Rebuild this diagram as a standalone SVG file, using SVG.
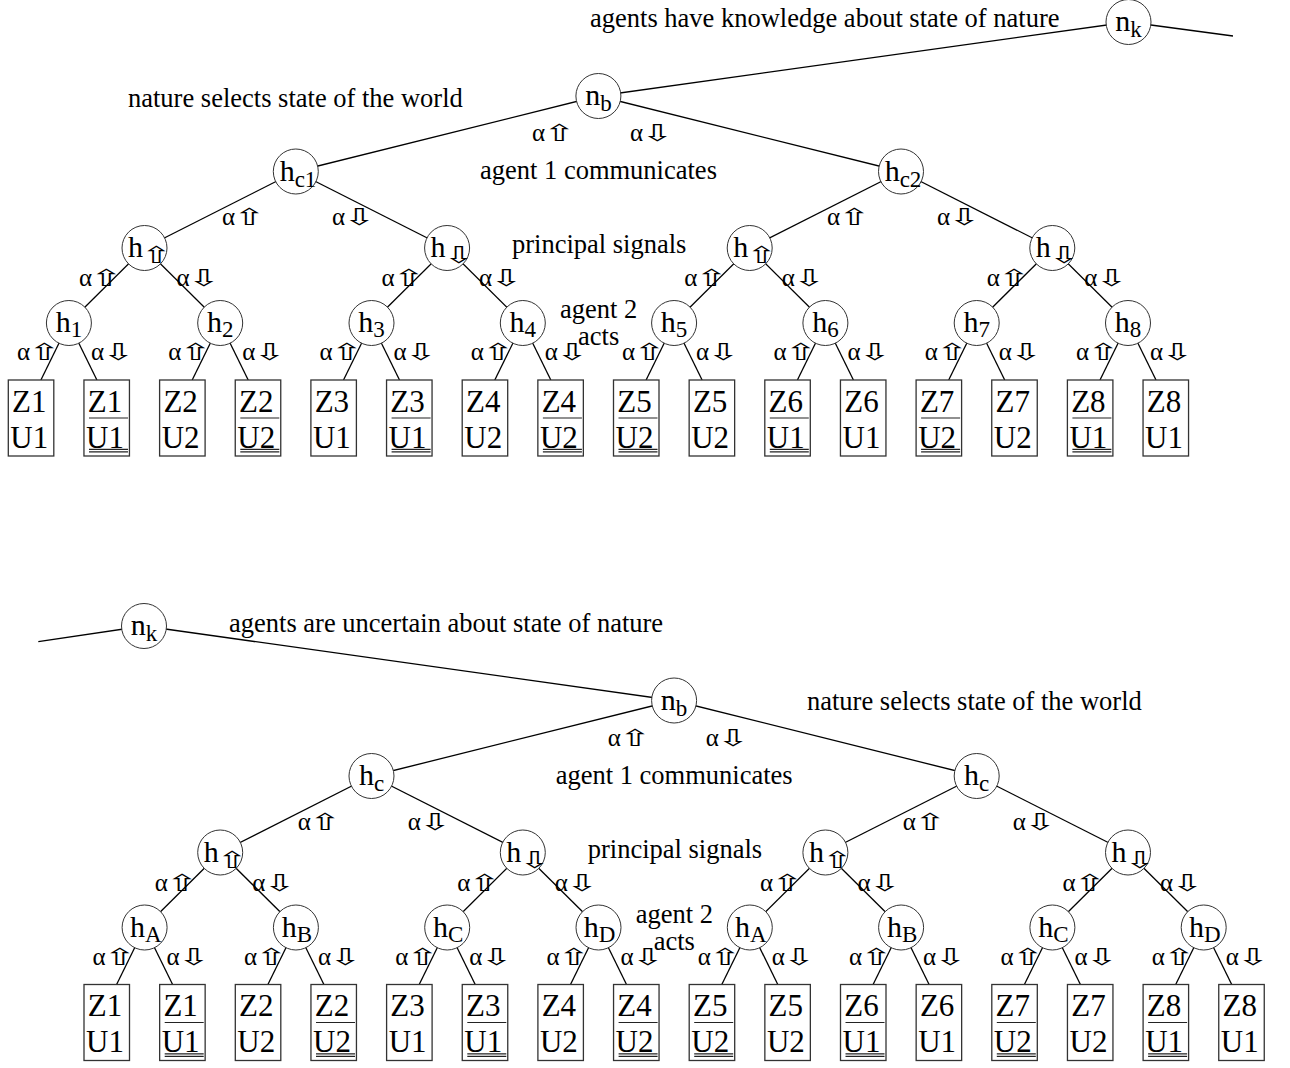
<svg xmlns="http://www.w3.org/2000/svg" width="1290" height="1068" viewBox="0 0 1290 1068">
<style>
.ln{stroke:#000;stroke-width:1.3;fill:none}
.nd{fill:#fff;stroke:#333;stroke-width:1}
.bx{fill:#fff;stroke:#333;stroke-width:1.3}
.ul{stroke:#222;stroke-width:1.2}
text{font-family:"Liberation Serif","Times New Roman",serif;fill:#000}
.t{font-size:26.5px}
.nl{font-size:30px;text-anchor:middle}
.nh{font-size:30px}
.sb{font-size:23px}
.al{font-size:25px}
.ar{font-family:"DejaVu Sans",sans-serif;font-size:23px}
.bt{font-size:31px;text-anchor:middle}
</style>
<defs>
<g id="au"><text class="al" x="0" y="0">α</text><text class="ar" transform="translate(11,0) scale(1.7,1)">⇧</text></g>
<g id="ad"><text class="al" x="0" y="0">α</text><text class="ar" transform="translate(11,0) scale(1.7,1)">⇩</text></g>
<text id="su" class="ar" transform="scale(1.6,1)">⇧</text>
<text id="sd" class="ar" transform="scale(1.6,1)">⇩</text>
<g id="treeEdges">
<line class="ln" x1="598.4" y1="96" x2="295.8" y2="171.5"/>
<line class="ln" x1="598.4" y1="96" x2="901" y2="171.5"/>
<line class="ln" x1="295.8" y1="171.5" x2="144.5" y2="248"/>
<line class="ln" x1="295.8" y1="171.5" x2="447.1" y2="248"/>
<line class="ln" x1="901" y1="171.5" x2="749.7" y2="248"/>
<line class="ln" x1="901" y1="171.5" x2="1052.3" y2="248"/>
<line class="ln" x1="144.5" y1="248" x2="68.9" y2="323"/>
<line class="ln" x1="144.5" y1="248" x2="220.2" y2="323"/>
<line class="ln" x1="447.1" y1="248" x2="371.5" y2="323"/>
<line class="ln" x1="447.1" y1="248" x2="522.8" y2="323"/>
<line class="ln" x1="749.7" y1="248" x2="674.1" y2="323"/>
<line class="ln" x1="749.7" y1="248" x2="825.4" y2="323"/>
<line class="ln" x1="1052.3" y1="248" x2="976.7" y2="323"/>
<line class="ln" x1="1052.3" y1="248" x2="1128" y2="323"/>
<line class="ln" x1="68.9" y1="323" x2="40.9" y2="380"/>
<line class="ln" x1="68.9" y1="323" x2="96.9" y2="380"/>
<line class="ln" x1="220.2" y1="323" x2="192.2" y2="380"/>
<line class="ln" x1="220.2" y1="323" x2="248.2" y2="380"/>
<line class="ln" x1="371.5" y1="323" x2="343.5" y2="380"/>
<line class="ln" x1="371.5" y1="323" x2="399.5" y2="380"/>
<line class="ln" x1="522.8" y1="323" x2="494.8" y2="380"/>
<line class="ln" x1="522.8" y1="323" x2="550.8" y2="380"/>
<line class="ln" x1="674.1" y1="323" x2="646.1" y2="380"/>
<line class="ln" x1="674.1" y1="323" x2="702.1" y2="380"/>
<line class="ln" x1="825.4" y1="323" x2="797.4" y2="380"/>
<line class="ln" x1="825.4" y1="323" x2="853.4" y2="380"/>
<line class="ln" x1="976.7" y1="323" x2="948.7" y2="380"/>
<line class="ln" x1="976.7" y1="323" x2="1004.7" y2="380"/>
<line class="ln" x1="1128" y1="323" x2="1100" y2="380"/>
<line class="ln" x1="1128" y1="323" x2="1156" y2="380"/>
</g>
<g id="alphaLabels">
<use href="#au" x="532" y="141"/>
<use href="#ad" x="630" y="141"/>
<use href="#au" x="222" y="225"/>
<use href="#ad" x="332" y="225"/>
<use href="#au" x="827" y="225"/>
<use href="#ad" x="937" y="225"/>
<use href="#au" x="79" y="286"/>
<use href="#ad" x="176.5" y="286"/>
<use href="#au" x="381.6" y="286"/>
<use href="#ad" x="479.1" y="286"/>
<use href="#au" x="684.2" y="286"/>
<use href="#ad" x="781.7" y="286"/>
<use href="#au" x="986.8" y="286"/>
<use href="#ad" x="1084.3" y="286"/>
<use href="#au" x="16.9" y="360"/>
<use href="#ad" x="90.9" y="360"/>
<use href="#au" x="168.2" y="360"/>
<use href="#ad" x="242.2" y="360"/>
<use href="#au" x="319.5" y="360"/>
<use href="#ad" x="393.5" y="360"/>
<use href="#au" x="470.8" y="360"/>
<use href="#ad" x="544.8" y="360"/>
<use href="#au" x="622.1" y="360"/>
<use href="#ad" x="696.1" y="360"/>
<use href="#au" x="773.4" y="360"/>
<use href="#ad" x="847.4" y="360"/>
<use href="#au" x="924.7" y="360"/>
<use href="#ad" x="998.7" y="360"/>
<use href="#au" x="1076" y="360"/>
<use href="#ad" x="1150" y="360"/>
<text class="t" x="480" y="179">agent 1 communicates</text>
<text class="t" x="512" y="253">principal signals</text>
<text class="t" x="560" y="318">agent 2</text>
<text class="t" x="578" y="345">acts</text>
</g>
<g id="boxes">
<g id="b1"><rect class="bx" x="8.3" y="380" width="45.5" height="76"/><text class="bt" x="29.3" y="411.5">Z1</text><text class="bt" x="29.3" y="447.5">U1</text></g>
<g id="b2"><rect class="bx" x="83.95" y="380" width="45.5" height="76"/><text class="bt" x="104.95" y="411.5">Z1</text><text class="bt" x="104.95" y="447.5">U1</text><line class="ul" x1="89" y1="418" x2="128" y2="418"/><line class="ul" x1="89" y1="449.3" x2="128" y2="449.3"/><line class="ul" x1="89" y1="451.8" x2="128" y2="451.8"/></g>
<g id="b3"><rect class="bx" x="159.6" y="380" width="45.5" height="76"/><text class="bt" x="180.6" y="411.5">Z2</text><text class="bt" x="180.6" y="447.5">U2</text></g>
<g id="b4"><rect class="bx" x="235.25" y="380" width="45.5" height="76"/><text class="bt" x="256.25" y="411.5">Z2</text><text class="bt" x="256.25" y="447.5">U2</text><line class="ul" x1="240.3" y1="418" x2="279.3" y2="418"/><line class="ul" x1="240.3" y1="449.3" x2="279.3" y2="449.3"/><line class="ul" x1="240.3" y1="451.8" x2="279.3" y2="451.8"/></g>
<g id="b5"><rect class="bx" x="310.9" y="380" width="45.5" height="76"/><text class="bt" x="331.9" y="411.5">Z3</text><text class="bt" x="331.9" y="447.5">U1</text></g>
<g id="b6"><rect class="bx" x="386.55" y="380" width="45.5" height="76"/><text class="bt" x="407.55" y="411.5">Z3</text><text class="bt" x="407.55" y="447.5">U1</text><line class="ul" x1="391.6" y1="418" x2="430.6" y2="418"/><line class="ul" x1="391.6" y1="449.3" x2="430.6" y2="449.3"/><line class="ul" x1="391.6" y1="451.8" x2="430.6" y2="451.8"/></g>
<g id="b7"><rect class="bx" x="462.2" y="380" width="45.5" height="76"/><text class="bt" x="483.2" y="411.5">Z4</text><text class="bt" x="483.2" y="447.5">U2</text></g>
<g id="b8"><rect class="bx" x="537.85" y="380" width="45.5" height="76"/><text class="bt" x="558.85" y="411.5">Z4</text><text class="bt" x="558.85" y="447.5">U2</text><line class="ul" x1="542.9" y1="418" x2="581.9" y2="418"/><line class="ul" x1="542.9" y1="449.3" x2="581.9" y2="449.3"/><line class="ul" x1="542.9" y1="451.8" x2="581.9" y2="451.8"/></g>
<g id="b9"><rect class="bx" x="613.5" y="380" width="45.5" height="76"/><text class="bt" x="634.5" y="411.5">Z5</text><text class="bt" x="634.5" y="447.5">U2</text><line class="ul" x1="618.5" y1="418" x2="657.5" y2="418"/><line class="ul" x1="618.5" y1="449.3" x2="657.5" y2="449.3"/><line class="ul" x1="618.5" y1="451.8" x2="657.5" y2="451.8"/></g>
<g id="b10"><rect class="bx" x="689.15" y="380" width="45.5" height="76"/><text class="bt" x="710.15" y="411.5">Z5</text><text class="bt" x="710.15" y="447.5">U2</text></g>
<g id="b11"><rect class="bx" x="764.8" y="380" width="45.5" height="76"/><text class="bt" x="785.8" y="411.5">Z6</text><text class="bt" x="785.8" y="447.5">U1</text><line class="ul" x1="769.8" y1="418" x2="808.8" y2="418"/><line class="ul" x1="769.8" y1="449.3" x2="808.8" y2="449.3"/><line class="ul" x1="769.8" y1="451.8" x2="808.8" y2="451.8"/></g>
<g id="b12"><rect class="bx" x="840.45" y="380" width="45.5" height="76"/><text class="bt" x="861.45" y="411.5">Z6</text><text class="bt" x="861.45" y="447.5">U1</text></g>
<g id="b13"><rect class="bx" x="916.1" y="380" width="45.5" height="76"/><text class="bt" x="937.1" y="411.5">Z7</text><text class="bt" x="937.1" y="447.5">U2</text><line class="ul" x1="921.1" y1="418" x2="960.1" y2="418"/><line class="ul" x1="921.1" y1="449.3" x2="960.1" y2="449.3"/><line class="ul" x1="921.1" y1="451.8" x2="960.1" y2="451.8"/></g>
<g id="b14"><rect class="bx" x="991.75" y="380" width="45.5" height="76"/><text class="bt" x="1012.75" y="411.5">Z7</text><text class="bt" x="1012.75" y="447.5">U2</text></g>
<g id="b15"><rect class="bx" x="1067.4" y="380" width="45.5" height="76"/><text class="bt" x="1088.4" y="411.5">Z8</text><text class="bt" x="1088.4" y="447.5">U1</text><line class="ul" x1="1072.4" y1="418" x2="1111.4" y2="418"/><line class="ul" x1="1072.4" y1="449.3" x2="1111.4" y2="449.3"/><line class="ul" x1="1072.4" y1="451.8" x2="1111.4" y2="451.8"/></g>
<g id="b16"><rect class="bx" x="1143.05" y="380" width="45.5" height="76"/><text class="bt" x="1164.05" y="411.5">Z8</text><text class="bt" x="1164.05" y="447.5">U1</text></g>
</g>
</defs>

<!-- connectors -->
<g id="connectors">
<line class="ln" x1="1128.5" y1="22" x2="1233" y2="36"/>
<line class="ln" x1="1128.5" y1="22" x2="598.4" y2="96"/>
<use href="#treeEdges"/>
<line class="ln" x1="144" y1="626" x2="38.3" y2="641.7"/>
<line class="ln" x1="144" y1="626" x2="674.1" y2="700.5"/>
<use href="#treeEdges" transform="translate(75.7,604.5)"/>
</g>

<!-- top tree labels -->
<g id="top-labels">
<text class="t" x="590" y="27">agents have knowledge about state of nature</text>
<text class="t" x="128" y="107">nature selects state of the world</text>
<use href="#alphaLabels"/>
</g>

<!-- top tree nodes -->
<g id="top-nk"><circle class="nd" cx="1128.5" cy="22" r="22.5"/><text class="nl" x="1128.5" y="31">n<tspan class="sb" dy="6">k</tspan></text></g>
<g id="top-nb"><circle class="nd" cx="598.4" cy="96" r="22.5"/><text class="nl" x="598.4" y="105">n<tspan class="sb" dy="6">b</tspan></text></g>
<g id="top-hc1"><circle class="nd" cx="295.8" cy="171.5" r="22.5"/><text class="nl" x="298" y="180.5">h<tspan class="sb" dy="6">c1</tspan></text></g>
<g id="top-hc2"><circle class="nd" cx="901" cy="171.5" r="22.5"/><text class="nl" x="903" y="180.5">h<tspan class="sb" dy="6">c2</tspan></text></g>
<g id="top-hup1"><circle class="nd" cx="144.5" cy="248" r="22.5"/><text class="nh" x="128" y="257">h</text><use href="#su" x="141" y="263"/></g>
<g id="top-hdn1"><circle class="nd" cx="447.1" cy="248" r="22.5"/><text class="nh" x="430.6" y="257">h</text><use href="#sd" x="443.6" y="263"/></g>
<g id="top-hup2"><circle class="nd" cx="749.7" cy="248" r="22.5"/><text class="nh" x="733.2" y="257">h</text><use href="#su" x="746.2" y="263"/></g>
<g id="top-hdn2"><circle class="nd" cx="1052.3" cy="248" r="22.5"/><text class="nh" x="1035.8" y="257">h</text><use href="#sd" x="1048.8" y="263"/></g>
<g id="top-h1"><circle class="nd" cx="68.9" cy="323" r="22.5"/><text class="nl" x="68.9" y="332">h<tspan class="sb" dy="5">1</tspan></text></g>
<g id="top-h2"><circle class="nd" cx="220.2" cy="323" r="22.5"/><text class="nl" x="220.2" y="332">h<tspan class="sb" dy="5">2</tspan></text></g>
<g id="top-h3"><circle class="nd" cx="371.5" cy="323" r="22.5"/><text class="nl" x="371.5" y="332">h<tspan class="sb" dy="5">3</tspan></text></g>
<g id="top-h4"><circle class="nd" cx="522.8" cy="323" r="22.5"/><text class="nl" x="522.8" y="332">h<tspan class="sb" dy="5">4</tspan></text></g>
<g id="top-h5"><circle class="nd" cx="674.1" cy="323" r="22.5"/><text class="nl" x="674.1" y="332">h<tspan class="sb" dy="5">5</tspan></text></g>
<g id="top-h6"><circle class="nd" cx="825.4" cy="323" r="22.5"/><text class="nl" x="825.4" y="332">h<tspan class="sb" dy="5">6</tspan></text></g>
<g id="top-h7"><circle class="nd" cx="976.7" cy="323" r="22.5"/><text class="nl" x="976.7" y="332">h<tspan class="sb" dy="5">7</tspan></text></g>
<g id="top-h8"><circle class="nd" cx="1128" cy="323" r="22.5"/><text class="nl" x="1128" y="332">h<tspan class="sb" dy="5">8</tspan></text></g>
<g id="top-leaves"><use href="#boxes"/></g>

<!-- bottom tree labels -->
<g id="bottom-labels">
<text class="t" x="229" y="632">agents are uncertain about state of nature</text>
<text class="t" x="807" y="710">nature selects state of the world</text>
<use href="#alphaLabels" transform="translate(75.7,604.5)"/>
</g>

<!-- bottom tree nodes -->
<g id="bot-nk"><circle class="nd" cx="144" cy="626" r="22.5"/><text class="nl" x="144" y="635">n<tspan class="sb" dy="6">k</tspan></text></g>
<g transform="translate(75.7,604.5)">
<g id="bot-nb"><circle class="nd" cx="598.4" cy="96" r="22.5"/><text class="nl" x="598.4" y="105">n<tspan class="sb" dy="6">b</tspan></text></g>
<g id="bot-hc1"><circle class="nd" cx="295.8" cy="171.5" r="22.5"/><text class="nl" x="295.8" y="180.5">h<tspan class="sb" dy="6">c</tspan></text></g>
<g id="bot-hc2"><circle class="nd" cx="901" cy="171.5" r="22.5"/><text class="nl" x="901" y="180.5">h<tspan class="sb" dy="6">c</tspan></text></g>
<g id="bot-hup1"><circle class="nd" cx="144.5" cy="248" r="22.5"/><text class="nh" x="128" y="257">h</text><use href="#su" x="141" y="263"/></g>
<g id="bot-hdn1"><circle class="nd" cx="447.1" cy="248" r="22.5"/><text class="nh" x="430.6" y="257">h</text><use href="#sd" x="443.6" y="263"/></g>
<g id="bot-hup2"><circle class="nd" cx="749.7" cy="248" r="22.5"/><text class="nh" x="733.2" y="257">h</text><use href="#su" x="746.2" y="263"/></g>
<g id="bot-hdn2"><circle class="nd" cx="1052.3" cy="248" r="22.5"/><text class="nh" x="1035.8" y="257">h</text><use href="#sd" x="1048.8" y="263"/></g>
<g id="bot-hA1"><circle class="nd" cx="68.9" cy="323" r="22.5"/><text class="nl" x="70" y="332">h<tspan class="sb" dy="5">A</tspan></text></g>
<g id="bot-hB1"><circle class="nd" cx="220.2" cy="323" r="22.5"/><text class="nl" x="221.3" y="332">h<tspan class="sb" dy="5">B</tspan></text></g>
<g id="bot-hC1"><circle class="nd" cx="371.5" cy="323" r="22.5"/><text class="nl" x="372.6" y="332">h<tspan class="sb" dy="5">C</tspan></text></g>
<g id="bot-hD1"><circle class="nd" cx="522.8" cy="323" r="22.5"/><text class="nl" x="523.9" y="332">h<tspan class="sb" dy="5">D</tspan></text></g>
<g id="bot-hA2"><circle class="nd" cx="674.1" cy="323" r="22.5"/><text class="nl" x="675.2" y="332">h<tspan class="sb" dy="5">A</tspan></text></g>
<g id="bot-hB2"><circle class="nd" cx="825.4" cy="323" r="22.5"/><text class="nl" x="826.5" y="332">h<tspan class="sb" dy="5">B</tspan></text></g>
<g id="bot-hC2"><circle class="nd" cx="976.7" cy="323" r="22.5"/><text class="nl" x="977.8" y="332">h<tspan class="sb" dy="5">C</tspan></text></g>
<g id="bot-hD2"><circle class="nd" cx="1128" cy="323" r="22.5"/><text class="nl" x="1129.1" y="332">h<tspan class="sb" dy="5">D</tspan></text></g>
<g id="bot-leaves"><use href="#boxes"/></g>
</g>
</svg>
